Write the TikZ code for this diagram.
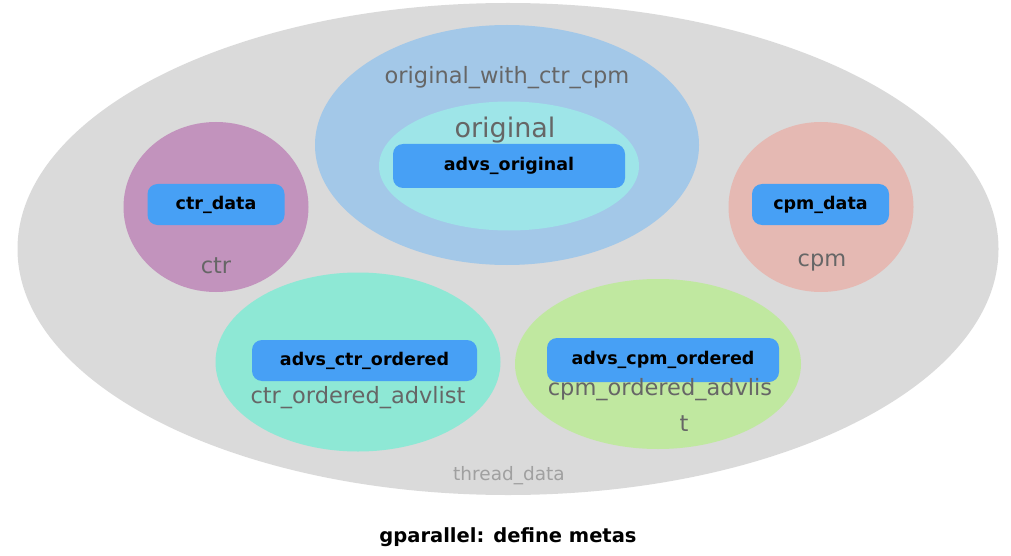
\documentclass[tikz,border=0pt]{standalone}
\usepackage{fontspec}
\setmainfont{DejaVu Sans}
\newfontfamily\handfont{DejaVu Sans}
\usetikzlibrary{shapes.geometric}
\definecolor{bggray}{HTML}{DADADA}
\definecolor{outerblue}{HTML}{A3C8E8}
\definecolor{innercyan}{HTML}{9EE5E8}
\definecolor{boxblue}{HTML}{47A0F5}
\definecolor{ctrpurple}{HTML}{C293BD}
\definecolor{cpmpink}{HTML}{E5B9B3}
\definecolor{ctrteal}{HTML}{8EE8D5}
\definecolor{cpmgreen}{HTML}{C0E8A0}
\definecolor{labgray}{HTML}{666666}
\definecolor{threadgray}{HTML}{A0A0A0}
\tikzset{
  blob/.style={ellipse, draw=none, inner sep=0pt},
  databox/.style={rounded corners=10pt, fill=boxblue, draw=none, inner sep=0pt, font=\fontsize{17.5}{21}\selectfont\bfseries, text=black},
  hand/.style={font=\handfont\fontsize{22.5}{26}\selectfont, text=labgray, inner sep=0pt},
}
\begin{document}
\begin{tikzpicture}[x=1pt,y=-1pt]
\useasboundingbox (0,0) rectangle (1011,556);
% ellipses
\node[blob, fill=bggray, minimum width=981pt, minimum height=492pt] (thread) at (508,249) {};
\node[blob, fill=outerblue, minimum width=384pt, minimum height=240pt] (owcc) at (507,145) {};
\node[blob, fill=innercyan, minimum width=260pt, minimum height=129pt] (orig) at (509,166) {};
\node[blob, fill=ctrpurple, minimum width=185pt, minimum height=170pt] (ctr) at (216,207) {};
\node[blob, fill=cpmpink, minimum width=185pt, minimum height=170pt] (cpm) at (821,207) {};
\node[blob, fill=ctrteal, minimum width=285pt, minimum height=179pt] (ctro) at (358,362) {};
\node[blob, fill=cpmgreen, minimum width=286pt, minimum height=170pt] (cpmo) at (658,364) {};
% boxes
\node[databox, minimum width=232pt, minimum height=44pt] (advo) at (509,166) {advs\_original};
\node[databox, minimum width=137pt, minimum height=41pt] (ctrd) at (216,204.5) {ctr\_data};
\node[databox, minimum width=137pt, minimum height=41pt] (cpmd) at (820.5,204.5) {cpm\_data};
\node[databox, minimum width=225pt, minimum height=41pt] (advco) at (364.5,360.5) {advs\_ctr\_ordered};
\node[databox, minimum width=232pt, minimum height=44pt] (advpo) at (663,360) {advs\_cpm\_ordered};
% labels
\node[hand] (lowcc) at (507,78) {original\_with\_ctr\_cpm};
\node[hand, font=\handfont\fontsize{27}{31}\selectfont] (lorig) at (505,130) {original};
\node[hand] (lctr) at (216,266) {ctr};
\node[hand] (lcpm) at (822,263) {cpm};
\node[hand] (lctro) at (358,398) {ctr\_ordered\_advlist};
\node[hand] (lcpmo) at (660,390) {cpm\_ordered\_advlis};
\node[hand] (lcpmot) at (684,424) {t};
\node[font=\fontsize{18.5}{22}\selectfont, text=threadgray, inner sep=0pt] (lthread) at (509,476) {thread\_data};
\node[font=\fontsize{19.5}{23}\selectfont\bfseries, text=black, inner sep=0pt] (title) at (508,537) {gparallel: define metas};
\end{tikzpicture}
\end{document}
